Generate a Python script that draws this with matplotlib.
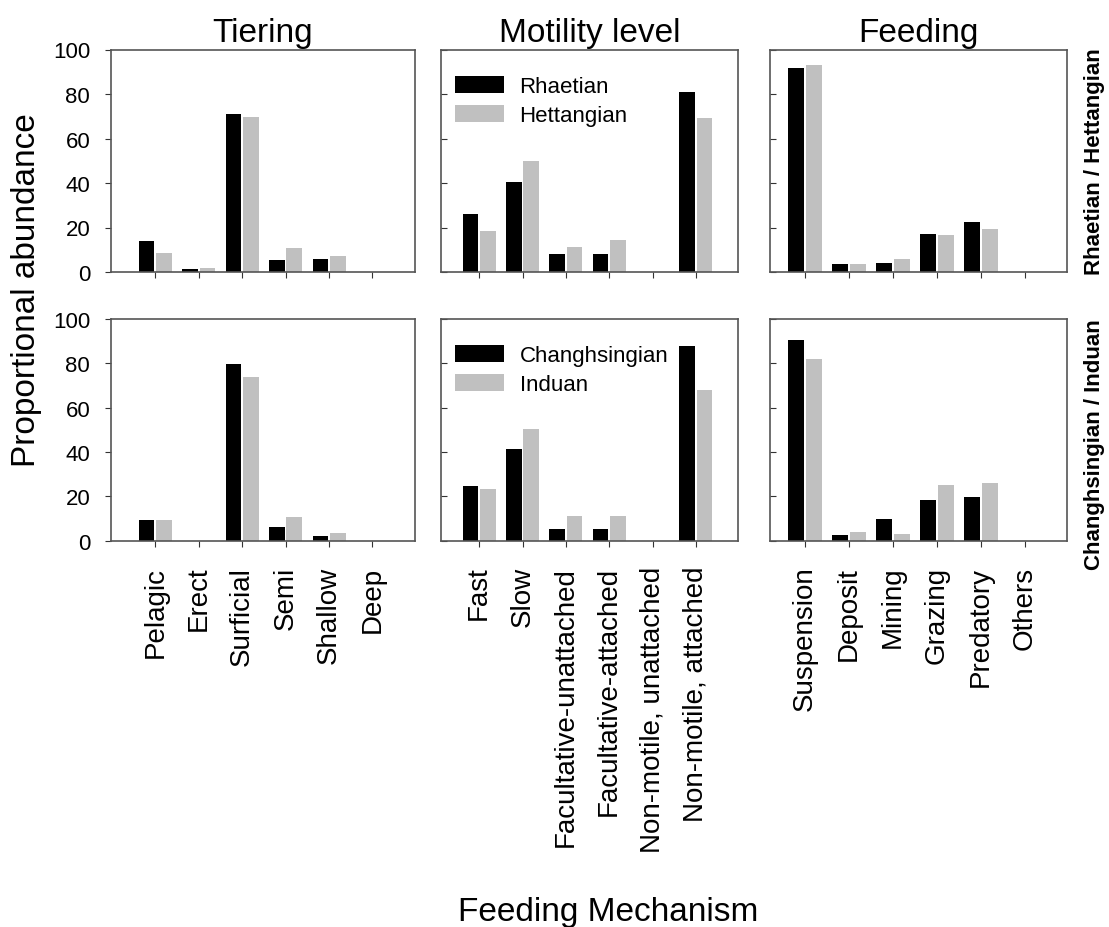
import numpy as np
import matplotlib
matplotlib.use('Agg')
import matplotlib.pyplot as plt

plt.rcParams['font.family'] = ['Liberation Sans', 'DejaVu Sans']

# categories for each panel column
tiering_cats = ['Pelagic', 'Erect', 'Surficial', 'Semi', 'Shallow', 'Deep']
motility_cats = ['Fast', 'Slow', 'Facultative-unattached', 'Facultative-attached',
                 'Non-motile, unattached', 'Non-motile, attached']
feeding_cats = ['Suspension', 'Deposit', 'Mining', 'Grazing', 'Predatory', 'Others']

# top row : Rhaetian / Hettangian
rhaetian_tiering = [13.8, 1.5, 71.2, 5.5, 6.0, 0]
hettangian_tiering = [8.7, 2.0, 69.7, 10.8, 7.0, 0]
rhaetian_motility = [25.9, 40.5, 8.1, 8.1, 0, 81.0]
hettangian_motility = [18.6, 50.0, 11.1, 14.5, 0, 69.4]
rhaetian_feeding = [91.9, 3.7, 4.0, 16.9, 22.5, 0]
hettangian_feeding = [93.0, 3.7, 6.0, 16.5, 19.5, 0]

# bottom row : Changhsingian / Induan
changh_tiering = [9.3, 0, 79.5, 6.2, 2.1, 0]
induan_tiering = [9.5, 0, 74.0, 10.5, 3.5, 0]
changh_motility = [24.6, 41.4, 5.5, 5.2, 0, 87.6]
induan_motility = [23.3, 50.3, 11.2, 11.2, 0, 68.1]
changh_feeding = [90.6, 2.5, 9.8, 18.2, 19.5, 0]
induan_feeding = [82.0, 3.8, 3.0, 25.1, 25.9, 0]

titles = ['Tiering', 'Motility level', 'Feeding']
cats = [tiering_cats, motility_cats, feeding_cats]
top = [(rhaetian_tiering, hettangian_tiering),
       (rhaetian_motility, hettangian_motility),
       (rhaetian_feeding, hettangian_feeding)]
bottom = [(changh_tiering, induan_tiering),
          (changh_motility, induan_motility),
          (changh_feeding, induan_feeding)]

W, H = 1109, 928
fig = plt.figure(figsize=(W / 100, H / 100), dpi=100)

# panel pixel boxes (left, right) and x limits
cols = [(111, 415, (-1.02, 5.98)), (441, 738, (-0.88, 5.97)), (770, 1067, (-0.8, 5.96))]
rows = [(50.5, 273), (320, 541.7)]

spine_col = '#555555'
bw = 0.36
off = 0.2

for r, (ytop, ybot) in enumerate(rows):
    data = top if r == 0 else bottom
    for c, (xl, xr, xlim) in enumerate(cols):
        ax = fig.add_axes([xl / W, 1 - ybot / H, (xr - xl) / W, (ybot - ytop) / H])
        x = np.arange(len(cats[c]))
        a, b = data[c]
        if r == 0:
            labs = ('Rhaetian', 'Hettangian')
        else:
            labs = ('Changhsingian', 'Induan')
        ax.bar(x - off, a, bw, color='black', label=labs[0])
        ax.bar(x + off, b, bw, color='#c0c0c0', label=labs[1])
        ax.set_xlim(*xlim)
        ax.set_ylim(0, 100)
        ax.set_yticks([0, 20, 40, 60, 80, 100])
        ax.set_xticks(x)
        for s in ax.spines.values():
            s.set_color(spine_col)
            s.set_linewidth(1.2)
        ax.tick_params(axis='x', direction='out', length=4, color='#333333', pad=14)
        if c == 0:
            ax.tick_params(axis='y', direction='out', length=4, color='#333333',
                           labelsize=16, pad=11)
        else:
            ax.tick_params(axis='y', direction='in', length=4, color='#333333')
            ax.set_yticklabels([])
        if r == 0:
            ax.set_xticklabels([])
            ax.set_title(titles[c], fontsize=24, pad=6)
        else:
            ax.set_xticklabels(cats[c], rotation=90, fontsize=20)
        if c == 1:
            ax.legend(loc='upper left', bbox_to_anchor=(-0.02, 0.973), fontsize=16,
                      frameon=False, handlelength=2.2, handleheight=0.8,
                      handletextpad=0.7, labelspacing=0.35, borderaxespad=0.5)

fig.text(0.024, 0.6875, 'Proportional abundance', rotation=90, fontsize=24,
         ha='center', va='center')
fig.text(0.548, 0.017, 'Feeding Mechanism', fontsize=24, ha='center', va='center')
fig.text(0.9865, 1 - 162 / H, 'Rhaetian / Hettangian', rotation=90, fontsize=16,
         fontweight='bold', ha='center', va='center')
fig.text(0.9865, 1 - 445 / H, 'Changhsingian / Induan', rotation=90, fontsize=16,
         fontweight='bold', ha='center', va='center')

fig.savefig('out.png', dpi=100)
